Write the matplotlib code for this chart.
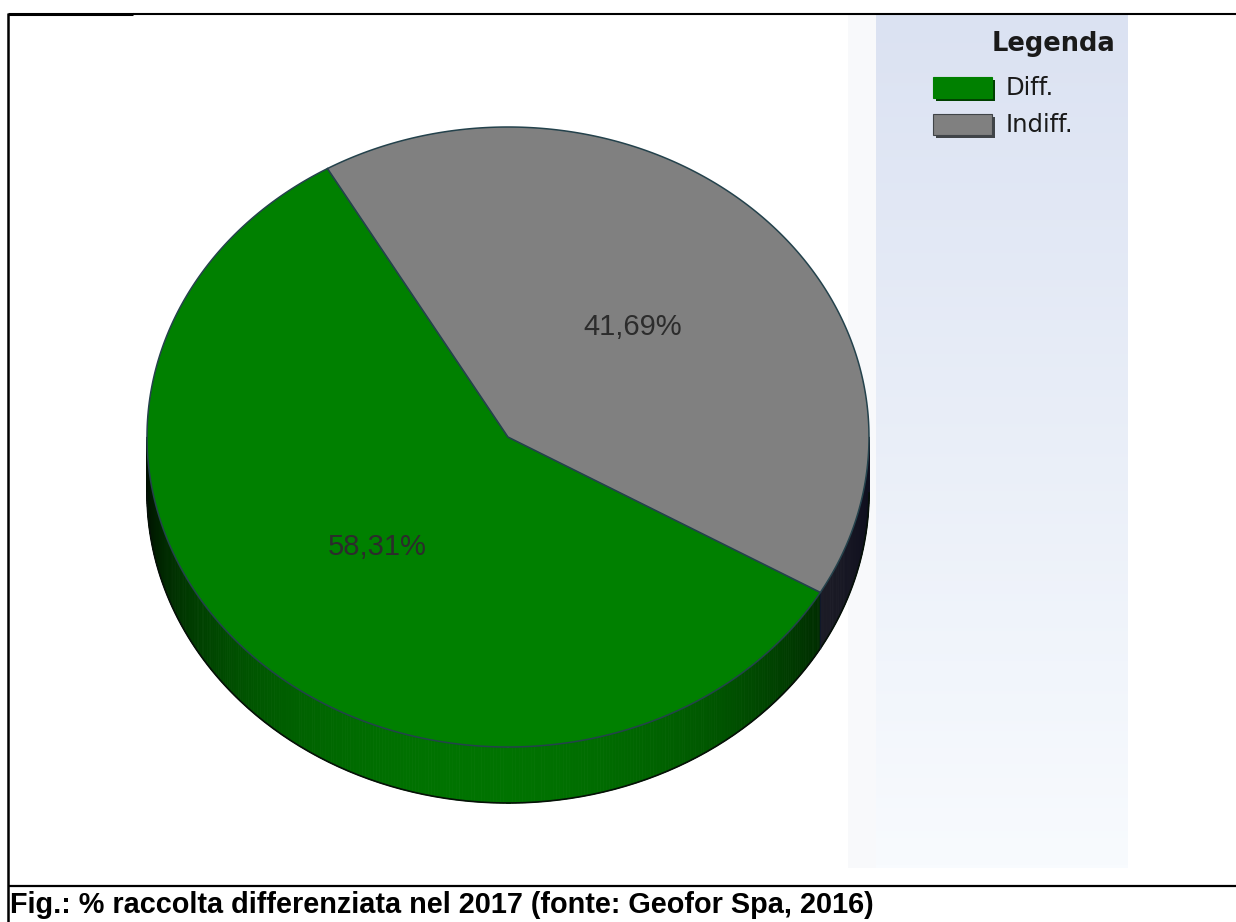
import numpy as np
import matplotlib
matplotlib.use('Agg')
import matplotlib.pyplot as plt
from matplotlib.patches import Polygon, Rectangle
from matplotlib.collections import PolyCollection
from matplotlib.colors import to_rgb

# ---------------- data ----------------
categories = ['Diff.', 'Indiff.']
values = [58.31, 41.69]
value_labels = ['58,31%', '41,69%']
colors = ['#008000', '#808080']
legend_title = 'Legenda'
caption = 'Fig.: % raccolta differenziata nel 2017 (fonte: Geofor Spa, 2016)'

# ---------------- figure ----------------
W, H = 1236, 922
fig = plt.figure(figsize=(W / 100, H / 100), dpi=100)
ax = fig.add_axes([0, 0, 1, 1])

# legend panel background (gradient)
grad = np.linspace(0, 1, 256)[:, None]
top_c = np.array([219, 226, 242]) / 255
bot_c = np.array([248, 251, 254]) / 255
img = top_c[None, None, :] * (1 - grad[:, :, None]) + bot_c[None, None, :] * grad[:, :, None]
ax.imshow(img, extent=[876, 1128, 868, 14], aspect='auto', zorder=0)
ax.add_patch(Rectangle((848, 14), 28, 854, facecolor='#f8f9fb', edgecolor='none', zorder=0))

# ---------------- 3D pie ----------------
cx, cy, rx, ry, depth = 508, 437, 361, 310, 56
start = 120


def pt(theta_deg, dz=0.0, r=1.0):
    t = np.deg2rad(theta_deg)
    return cx + r * rx * np.cos(t), cy - r * ry * np.sin(t) + dz


fracs = np.array(values) / np.sum(values)
bounds = start + 360 * np.concatenate([[0], np.cumsum(fracs)])

# side walls
polys, fcols = [], []
for i in range(len(values)):
    a0, a1 = bounds[i], bounds[i + 1]
    base = np.array(to_rgb(colors[i]))
    for k in range(-1, 3):
        lo = max(a0, 180 + 360 * k)
        hi = min(a1, 360 + 360 * k)
        if hi <= lo:
            continue
        th = np.linspace(lo, hi, max(2, int((hi - lo) / 0.5) + 1))
        for t0, t1 in zip(th[:-1], th[1:]):
            tm = 0.5 * (t0 + t1)
            b = max(0.0, np.cos(np.deg2rad(tm - 265))) ** 1.2
            c = base * (0.04 + 0.86 * b)
            if i == 1:
                c = c * 0.45 + np.array([0.05, 0.05, 0.11]) * (1 - b)
            p0 = pt(t0); p1 = pt(t1)
            q1 = pt(t1, depth); q0 = pt(t0, depth)
            polys.append([p0, p1, q1, q0])
            fcols.append(np.clip(c, 0, 1))
pc = PolyCollection(polys, facecolors=fcols, edgecolors=fcols, linewidths=0.6, zorder=2)
ax.add_collection(pc)

# side outline
th = np.linspace(180, 360, 300)
bx, by = pt(th, depth)
ax.plot(bx, by, color='#061008', lw=1.2, zorder=3)
# wall boundary between wedges
for b_ in bounds[1:-1]:
    bm = b_ % 360
    if 180 < bm < 360:
        x0, y0 = pt(bm)
        x1, y1 = pt(bm, depth)
        ax.plot([x0, x1], [y0, y1], color='#10182a', lw=1.0, zorder=3)

# top faces
for i in range(len(values)):
    th = np.linspace(bounds[i], bounds[i + 1], 400)
    xs, ys = pt(th)
    verts = np.column_stack([np.r_[cx, xs], np.r_[cy, ys]])
    ax.add_patch(Polygon(verts, closed=True, facecolor=colors[i],
                         edgecolor='#24424c', lw=1.1, zorder=4))

# value labels
for i in range(len(values)):
    mid = 0.5 * (bounds[i] + bounds[i + 1])
    lx, ly = pt(mid, r=0.5)
    ax.text(lx - 3, ly, value_labels[i], ha='center', va='center', fontsize=21,
            color='#2c2c2c', family='Liberation Sans', zorder=5)

# ---------------- legend ----------------
ax.text(1115, 44, legend_title, ha='right', va='center', fontsize=18.5,
        fontweight='bold', color='#1a1a1a', family='DejaVu Sans', zorder=5)
sw_y = [77, 114]
shadow = ['#004000', '#404448']
for i in range(len(categories)):
    y0 = sw_y[i]
    ax.add_patch(Rectangle((936, y0 + 3), 59, 21, facecolor=shadow[i], edgecolor='none', zorder=4))
    ax.add_patch(Rectangle((933, y0), 59, 21, facecolor=colors[i],
                           edgecolor=shadow[i] if i == 1 else colors[i], lw=0.8, zorder=5))
    ax.text(1006, y0 + 11, categories[i], ha='left', va='center', fontsize=17.5,
            color='#1a1a1a', family='DejaVu Sans', zorder=5)

# ---------------- frame lines & caption ----------------
ax.plot([8, 133], [14, 14], color='black', lw=2.2, solid_capstyle='butt', zorder=6)
ax.plot([133, W], [14, 14], color='black', lw=1.5, solid_capstyle='butt', zorder=6)
ax.plot([8, 8], [13, H], color='black', lw=1.8, solid_capstyle='butt', zorder=6)
ax.plot([8, W], [886, 886], color='black', lw=1.6, solid_capstyle='butt', zorder=6)
ax.text(10, 905, caption, ha='left', va='center', fontsize=20.8, fontweight='bold',
        color='black', family='Liberation Sans', zorder=6)

ax.set_xlim(0, W)
ax.set_ylim(H, 0)
ax.axis('off')
fig.savefig('out.png', dpi=100, facecolor='white')
